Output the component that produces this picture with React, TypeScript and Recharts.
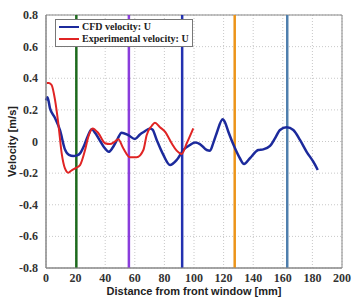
import {
  LineChart,
  Line,
  XAxis,
  YAxis,
  CartesianGrid,
  ReferenceLine,
  ReferenceArea,
  Legend,
} from 'recharts';

// CFD velocity along the window distance
const cfdX = [
  0, 1, 2.7, 6, 9.5, 12.8, 15.5, 18.5, 21, 23, 26, 28.5, 30.9, 33.5, 36.8, 39.5, 42.4, 45, 48,
  51.1, 55.6, 60.1, 63.5, 66, 70.3, 72, 74.8, 79.3, 83.8, 88.3, 92.8, 97.3, 100.7, 104, 108.6,
  110.8, 113, 115.3, 119.4, 121, 123.2, 127.7, 131, 133.8, 137.8, 143.4, 146.8, 151.4, 154.7,
  158.1, 162.6, 167.1, 171.6, 176.1, 180.6, 183.6,
];
const cfdU = [
  0.26, 0.28, 0.21, 0.15, 0.07, -0.05, -0.085, -0.092, -0.088, -0.075, -0.02, 0.04, 0.077, 0.05,
  0.0, -0.04, -0.065, -0.04, 0.01, 0.056, 0.04, 0.016, 0.045, 0.06, 0.083, 0.075, 0.01, -0.085,
  -0.149, -0.117, -0.054, -0.022, -0.007, -0.016, -0.054, -0.058, -0.01, 0.052, 0.14, 0.12, 0.062,
  -0.043, -0.106, -0.142, -0.106, -0.054, -0.05, -0.028, 0.02, 0.073, 0.09, 0.073, 0.01, -0.065,
  -0.128, -0.18,
];

// measured velocity
const expX = [
  0.5, 2, 3.8, 6.1, 8.3, 10.6, 12.8, 15.1, 17, 19.6, 23, 26.4, 28.6, 31.5, 35.4, 39.9, 43.2, 46.6,
  48.8, 52.2, 56.8, 61.3, 65.8, 68, 71.4, 73.6, 77, 80.4, 84.9, 88.3, 91.7, 95.1, 99.5,
];
const expU = [
  0.37, 0.37, 0.357, 0.263, 0.115, -0.075, -0.17, -0.197, -0.185, -0.17, -0.149, -0.054, 0.03,
  0.083, 0.052, -0.011, -0.016, 0.0, 0.014, -0.043, -0.1, -0.1, -0.054, 0.04, 0.098, 0.119, 0.09,
  0.062, -0.011, -0.058, -0.079, -0.011, 0.083,
];

const markerX = [20.5, 56, 92, 127.5, 163];
const markerColors = ['#1d6a1d', '#8a3ddc', '#2331b0', '#ec9419', '#4f7fae'];

const xTicks = [0, 20, 40, 60, 80, 100, 120, 140, 160, 180, 200];
const yTicks = [-0.8, -0.6, -0.4, -0.2, 0, 0.2, 0.4, 0.6, 0.8];

const cfd = cfdX.map((x, i) => ({ x, u: cfdU[i] }));
const exp = expX.map((x, i) => ({ x, u: expU[i] }));

const serif = '"Liberation Serif", "Times New Roman", serif';

function XTick({ x, y, payload }: any) {
  return (
    <text x={x} y={y} dy={8} textAnchor="middle" fontFamily={serif} fontWeight="bold" fontSize={12} fill="#333">
      {payload.value}
    </text>
  );
}

function YTick({ x, y, payload }: any) {
  return (
    <text x={x} y={y} dy={4} textAnchor="end" fontFamily={serif} fontWeight="bold" fontSize={12} fill="#333">
      {payload.value}
    </text>
  );
}

function LegendBox() {
  const row = (color: string, text: string) => (
    <div style={{ display: 'flex', alignItems: 'center', height: 12 }}>
      <div style={{ width: 20, height: 2.5, background: color, marginRight: 3 }} />
      <span>{text}</span>
    </div>
  );
  return (
    <div
      style={{
        border: '1px solid #777',
        background: '#fff',
        padding: '1px 3px',
        fontFamily: serif,
        fontWeight: 'bold',
        fontSize: 10,
        color: '#222',
        lineHeight: '12px',
      }}
    >
      {row('#1c2a9c', 'CFD velocity: U')}
      {row('#e02424', 'Experimental velocity: U')}
    </div>
  );
}

export default function App() {
  return (
    <div style={{ position: 'absolute', left: 0, top: 0, background: '#fff' }}>
      <LineChart width={355} height={298} margin={{ top: 15, right: 13, left: 0, bottom: 0 }}>
        <CartesianGrid stroke="#c8c8c8" strokeDasharray="1 2" />
        <XAxis
          dataKey="x"
          type="number"
          domain={[0, 200]}
          ticks={xTicks}
          tick={<XTick />}
          tickLine={false}
          axisLine={{ stroke: '#888' }}
          height={30}
          tickMargin={0}
          label={{
            value: 'Distance from front window [mm]',
            position: 'insideBottom',
            offset: 3,
            style: { fontFamily: '"Liberation Sans", sans-serif', fontWeight: 'bold', fontSize: 11, fill: '#222' },
          }}
        />
        <YAxis
          type="number"
          domain={[-0.8, 0.8]}
          ticks={yTicks}
          tick={<YTick />}
          tickLine={false}
          axisLine={{ stroke: '#888' }}
          width={46}
          tickMargin={2}
          allowDataOverflow
          label={{
            value: 'Velocity [m/s]',
            angle: -90,
            position: 'insideLeft',
            offset: 12,
            style: {
              textAnchor: 'middle',
              fontFamily: '"Liberation Sans", sans-serif',
              fontWeight: 'bold',
              fontSize: 11,
              fill: '#222',
            },
          }}
        />
        <ReferenceArea x1={0} x2={200} y1={-0.8} y2={0.8} fill="none" stroke="#888" strokeWidth={1} />
        {markerX.map((x, i) => (
          <ReferenceLine key={x} x={x} stroke={markerColors[i]} strokeWidth={2.5} />
        ))}
        <Legend
          layout="vertical"
          align="center"
          verticalAlign="middle"
          wrapperStyle={{ left: 55, top: 19, width: 'auto' }}
          content={() => <LegendBox />}
        />
        <Line
          data={cfd}
          dataKey="u"
          name="CFD velocity: U"
          type="monotone"
          stroke="#1c2a9c"
          strokeWidth={2.5}
          dot={false}
          isAnimationActive={false}
        />
        <Line
          data={exp}
          dataKey="u"
          name="Experimental velocity: U"
          type="monotone"
          stroke="#e02424"
          strokeWidth={2}
          dot={false}
          isAnimationActive={false}
        />
      </LineChart>
    </div>
  );
}
